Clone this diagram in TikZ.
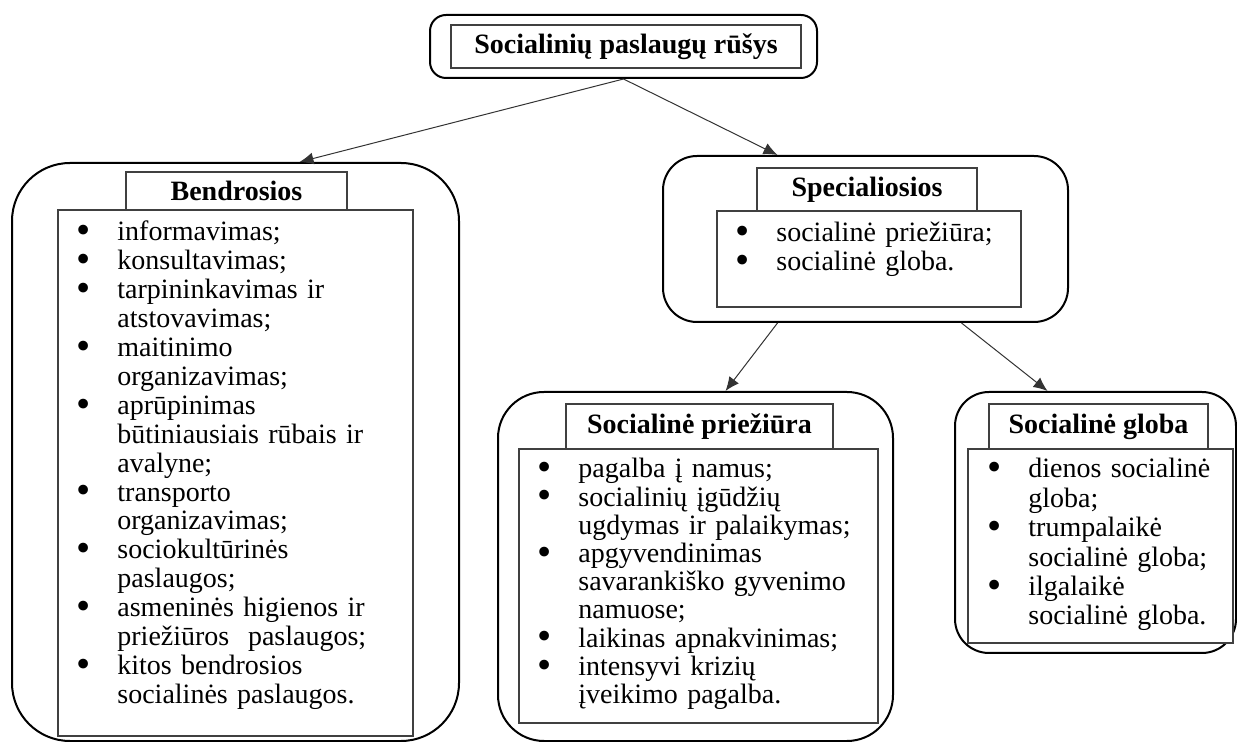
\documentclass[tikz,border=0pt]{standalone}
\usepackage{fontspec}
\setmainfont{Liberation Serif}
\usepackage{tikz}
\usetikzlibrary{arrows.meta,fit}

\newcommand{\blt}{\makebox[20.5pt][l]{\raisebox{-0.1em}{\scalebox{1.45}{\textbullet}}}}
\newcommand{\ind}{\hspace*{20.5pt}}

\begin{document}
\begin{tikzpicture}[x=0.5pt, y=-0.5pt,
    outerbox/.style={draw, line width=1pt, inner sep=0},
    headbox/.style={draw=black!75, line width=0.6pt, fill=white, inner sep=0, font=\bfseries},
    listbox/.style={draw=black!75, line width=0.6pt, fill=white, inner sep=0},
    itemtext/.style={anchor=base west, inner sep=0, text width=200pt, align=left, font=\fontsize{14}{#1}\selectfont},
    itemtext/.default=14.3pt,
    link/.style={draw=black!80, line width=0.5pt, -{Latex[length=7pt,width=6pt]}}]
\fontsize{14}{14.3}\selectfont
\useasboundingbox (0,0) rectangle (1237,742);

                \node[outerbox, rounded corners=8pt, fit={(430,15) (817,78)}](top){};
                \node[headbox, minimum width=175pt, minimum height=21.5pt](topHead) at (626,46.5) {Socialinių paslaugų rūšys};

                \node[outerbox, rounded corners=29pt, fit={(12,163) (459,741)}](gen){};
                \node[listbox, fit={(58,210) (413,736)}](genList){};
                \node[headbox, minimum width=110.5pt, minimum height=19pt](genHead) at (236.5,191) {Bendrosios};
                \node[itemtext=14.45pt](genItems) at (76,241) {\blt informavimas;\\ \blt konsultavimas;\\ \blt tarpininkavimas ir\\ \ind atstovavimas;\\ \blt maitinimo\\ \ind organizavimas;\\ \blt aprūpinimas\\ \ind būtiniausiais rūbais ir\\ \ind avalyne;\\ \blt transporto\\ \ind organizavimas;\\ \blt sociokultūrinės\\ \ind paslaugos;\\ \blt asmeninės higienos ir\\ \ind priežiūros\ \ paslaugos;\\ \blt kitos bendrosios\\ \ind socialinės paslaugos.};

                \node[outerbox, rounded corners=17pt, fit={(663,156) (1068,322)}](spec){};
                \node[listbox, fit={(717,211) (1021,307)}](specList){};
                \node[headbox, minimum width=110pt, minimum height=21.5pt](specHead) at (867,189.5) {Specialiosios};
                \node[itemtext](specItems) at (735,242) {\blt socialinė priežiūra;\\ \blt socialinė globa.};

                \node[outerbox, rounded corners=23pt, fit={(498,392) (893,741)}](prie){};
                \node[listbox, fit={(519,449) (878,723)}](prieList){};
                \node[headbox, minimum width=133.5pt, minimum height=22.5pt](prieHead) at (699.5,426.5) {Socialinė priežiūra};
                \node[itemtext=14.1pt](prieItems) at (537,478) {\blt pagalba į namus;\\ \blt socialinių įgūdžių\\ \ind ugdymas ir palaikymas;\\ \blt apgyvendinimas\\ \ind savarankiško gyvenimo\\ \ind namuose;\\ \blt laikinas apnakvinimas;\\ \blt intensyvi krizių\\ \ind įveikimo pagalba.};

                \node[outerbox, rounded corners=17pt, fit={(955,392) (1236,653)}](glob){};
                \node[listbox, fit={(968,449) (1233,643)}](globList){};
                \node[headbox, minimum width=109.5pt, minimum height=22.5pt](globHead) at (1098.5,426.5) {Socialinė globa};
                \node[itemtext=14.7pt](globItems) at (987,478) {\blt dienos socialinė\\ \ind globa;\\ \blt trumpalaikė\\ \ind socialinė globa;\\ \blt ilgalaikė\\ \ind socialinė globa.};

                                \draw[link] (top.south) -- ([xshift=32pt]gen.north);
                                \draw[link] (top.south) -- ([xshift=-44pt]spec.north);
                                \draw[link] ([xshift=-44pt]spec.south) -- ([xshift=15pt]prie.north);
                                \draw[link] ([xshift=48pt]spec.south) -- ([xshift=-24pt]glob.north);

\end{tikzpicture}
\end{document}
